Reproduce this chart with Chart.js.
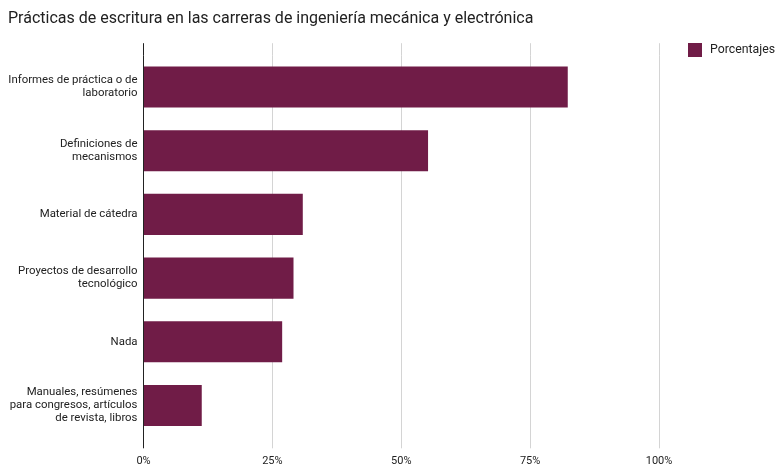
<!DOCTYPE html>
<html lang="es">
<head>
  <meta charset="utf-8" />
  <title>Prácticas de escritura</title>
  <style>
    body { margin: 0; background: #ffffff; }
    #grafico { display: block; }
  </style>
</head>
<body>
  <canvas id="grafico" width="778" height="464"></canvas>

  <script src="https://cdn.jsdelivr.net/npm/chart.js@4.4.4/dist/chart.umd.min.js"></script>
  <script>
    // datos
    const categorias = [
      ['Informes de práctica o de', 'laboratorio'],
      ['Definiciones de', 'mecanismos'],
      'Material de cátedra',
      ['Proyectos de desarrollo', 'tecnológico'],
      'Nada',
      ['Manuales, resúmenes', 'para congresos, artículos', 'de revista, libros']
    ];
    const porcentajes = [82.3, 55.2, 30.9, 29.1, 26.9, 11.3];
    const serie = 'Porcentajes';
    const ejeMin = 0;
    const ejeMax = 100;
    const ejePaso = 25;

    const colorBarra = '#701c47';
    const colorGrid = ctx => ctx.tick && ctx.tick.value === 0 ? '#222222' : '#d4d4d4';

    // leyenda arriba a la derecha (fuera del área del gráfico)
    const leyenda = {
      id: 'leyenda',
      afterDraw(chart) {
        const ctx = chart.ctx;
        const ds = chart.data.datasets[0];
        const x = chart.chartArea.right + 29;
        ctx.save();
        ctx.fillStyle = ds.backgroundColor;
        ctx.fillRect(x, 43, 14, 14);
        ctx.fillStyle = '#222222';
        ctx.font = '12.3px Roboto';
        ctx.textBaseline = 'middle';
        ctx.fillText(ds.label, x + 22, 50);
        ctx.restore();
      }
    };

    new Chart(document.getElementById('grafico'), {
      type: 'bar',
      data: {
        labels: categorias,
        datasets: [{
          label: serie,
          data: porcentajes,
          backgroundColor: colorBarra,
          borderWidth: 0,
          categoryPercentage: 1,
          barPercentage: 0.645
        }]
      },
      options: {
        indexAxis: 'y',
        responsive: false,
        devicePixelRatio: 1,
        animation: false,
        layout: { padding: { left: 8, right: 119, top: 0, bottom: 0 } },
        plugins: {
          legend: { display: false },
          tooltip: { enabled: false },
          title: {
            display: true,
            text: 'Prácticas de escritura en las carreras de ingeniería mecánica y electrónica',
            align: 'start',
            color: '#212121',
            font: { family: 'Roboto', size: 16, weight: 'normal', lineHeight: 1.2 },
            padding: { top: 9, bottom: 15.4 }
          }
        },
        scales: {
          x: {
            position: 'bottom',
            min: ejeMin,
            max: ejeMax,
            border: { display: false },
            grid: { color: colorGrid, lineWidth: 1, drawTicks: true, tickLength: 11 },
            ticks: {
              stepSize: ejePaso,
              padding: 6,
              color: '#222222',
              font: { family: 'Roboto', size: 11 },
              callback: v => v + '%'
            },
            afterFit: s => { s.height = 26.7; }
          },
          x2: {
            position: 'top',
            axis: 'x',
            min: ejeMin,
            max: ejeMax,
            border: { display: false },
            grid: { color: colorGrid, lineWidth: 1, drawOnChartArea: false, drawTicks: true, tickLength: 12 },
            ticks: { stepSize: ejePaso, display: false },
            afterFit: s => { s.height = 11.6; }
          },
          y: {
            border: { display: false },
            grid: { display: false, drawTicks: false },
            ticks: {
              padding: 6,
              color: '#222222',
              font: { family: 'Roboto', size: 11.4, lineHeight: 1.13 }
            },
            afterFit: s => { s.width = 135.5; }
          }
        }
      },
      plugins: [leyenda]
    });
  </script>
</body>
</html>
